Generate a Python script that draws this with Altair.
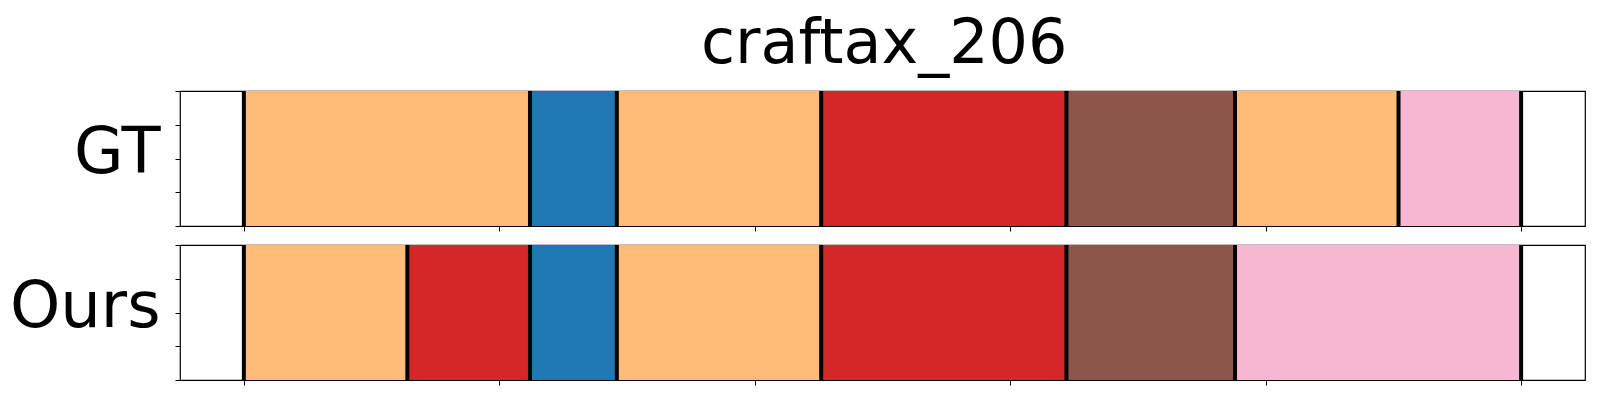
import altair as alt
import pandas as pd

# ---- data ----
gt_starts = [0, 56, 73, 113, 161, 194, 226]
gt_ends = [56, 73, 113, 161, 194, 226, 250]
gt_actions = ["orange", "blue", "orange", "red", "brown", "orange", "pink"]

ours_starts = [0, 32, 56, 73, 113, 161, 194]
ours_ends = [32, 56, 73, 113, 161, 194, 250]
ours_actions = ["orange", "red", "blue", "orange", "red", "brown", "pink"]

action_names = ["orange", "blue", "red", "brown", "pink"]
action_colors = ["#ffbb78", "#1f77b4", "#d62728", "#8c564b", "#f7b6d2"]

x_ticks = [0, 50, 100, 150, 200, 250]
y_ticks = [0, 0.25, 0.5, 0.75, 1.0]

FONT = "DejaVu Sans"
W, H = 1405, 135

xscale = alt.Scale(domain=[-12.5, 262.5], nice=False, zero=False)
yscale = alt.Scale(domain=[0, 1], nice=False)
cscale = alt.Scale(domain=action_names, range=action_colors)


def panel(name, starts, ends, actions):
    seg = pd.DataFrame({"start": starts, "end": ends, "action": actions,
                        "y0": 0.0, "y1": 1.0})
    bounds = pd.DataFrame({"b": starts + [ends[-1]]})
    rects = alt.Chart(seg).mark_rect(strokeWidth=0).encode(
        x=alt.X("start:Q", scale=xscale,
                axis=alt.Axis(values=x_ticks, labels=False, title=None, grid=False,
                              tickSize=5, tickColor="black", tickWidth=1,
                              domain=False)),
        x2="end:Q",
        y=alt.Y("y0:Q", scale=yscale,
                axis=alt.Axis(values=y_ticks, labels=False, grid=False, domain=False,
                              tickSize=5, tickColor="black", tickWidth=1,
                              title=name, titleAngle=0, titleAlign="right",
                              titleBaseline="middle", titleFontSize=64,
                              titleFont=FONT, titleFontWeight="normal",
                              titleColor="black", titleX=-20, titleY=62)),
        y2="y1:Q",
        color=alt.Color("action:N", scale=cscale, legend=None),
    )
    rules = alt.Chart(bounds).mark_rule(color="black", strokeWidth=4).encode(
        x=alt.X("b:Q", scale=xscale),
    )
    return alt.layer(rects, rules).properties(width=W, height=H)


chart = alt.vconcat(
    panel("GT", gt_starts, gt_ends, gt_actions),
    panel("Ours", ours_starts, ours_ends, ours_actions),
    spacing=9,
).properties(
    title=alt.TitleParams("craftax_206", fontSize=62, font=FONT, fontWeight="normal",
                          anchor="middle", color="black", offset=12, dx=87),
    padding={"left": 0, "top": 5, "right": 5, "bottom": 5},
).configure_view(
    stroke="black", strokeWidth=1.2
)

chart.save("out.html", embed_options={"renderer": "svg", "actions": False})
